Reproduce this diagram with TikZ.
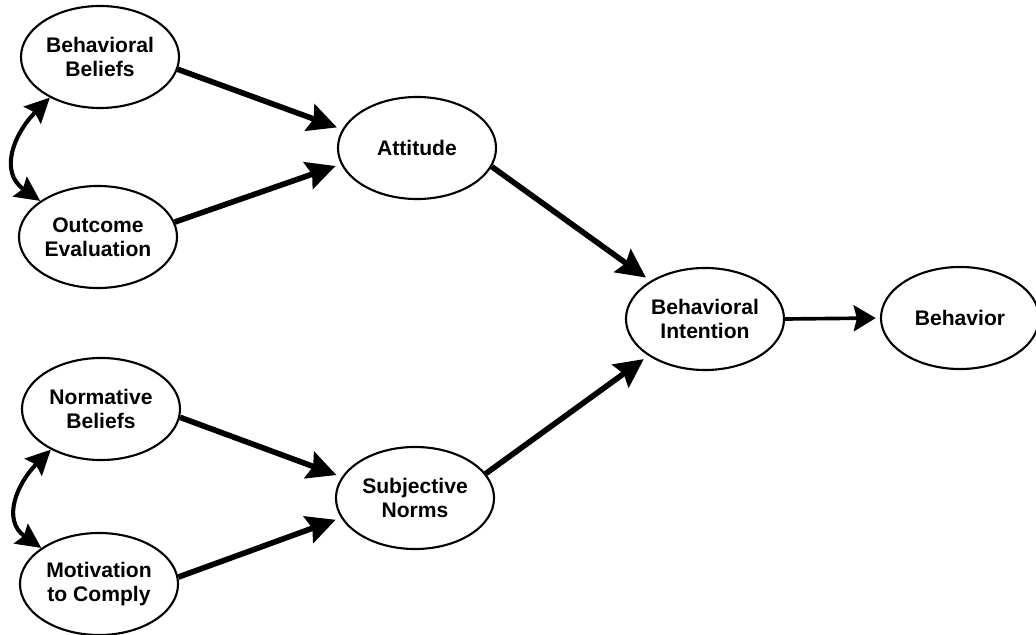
\documentclass[tikz,border=0pt]{standalone}
\usepackage{fontspec}
\setmainfont{Liberation Sans}
\usetikzlibrary{shapes.geometric,arrows.meta}
\tikzset{
  var/.style={ellipse,draw,line width=1.5pt,inner sep=0pt,minimum width=3.95cm,minimum height=2.55cm,align=center,font=\fontsize{15}{17}\selectfont\bfseries},
  head/.style={-{Stealth[length=0.72cm,width=0.7cm,inset=0.1cm]}},
  arr/.style={line width=4pt,head,shorten >=4pt},
  corr/.style={line width=2.9pt,{Stealth[length=0.62cm,width=0.6cm,inset=0.09cm]}-{Stealth[length=0.62cm,width=0.6cm,inset=0.09cm]}}
}
\begin{document}
\begin{tikzpicture}[x=0.025cm,y=-0.025cm]
\useasboundingbox (0,0) rectangle (1036,635);
\node[var] (bb) at (100,57) {Behavioral\\Beliefs};
\node[var] (oe) at (98,237) {Outcome\\Evaluation};
\node[var] (nb) at (101,409) {Normative\\Beliefs};
\node[var] (mc) at (99,584) {Motivation\\to Comply};
\node[var] (att) at (417,148) {Attitude};
\node[var] (sn) at (415,498) {Subjective\\Norms};
\node[var] (bi) at (705,319) {Behavioral\\Intention};
\node[var] (beh) at (960,318) {Behavior};
\draw[arr] (bb.-9)--(att.166);
\draw[arr] (oe.11)--(att.192);
\draw[arr] (nb.-6)--(sn.164);
\draw[arr] (mc.5)--(sn.195);
\draw[arr] (att.-14)--(bi.145);
\draw[arr] (sn.19)--(bi.213);
\draw[line width=2.6pt,-{Stealth[length=0.55cm,width=0.65cm,inset=0.08cm]},shorten >=3pt] (bi.east)--(beh.west);
\draw[corr] (bb.219) to[out=225,in=145,looseness=1.25] (oe.148);
\draw[corr] (nb.219) to[out=225,in=145,looseness=1.25] (mc.148);
\end{tikzpicture}
\end{document}
